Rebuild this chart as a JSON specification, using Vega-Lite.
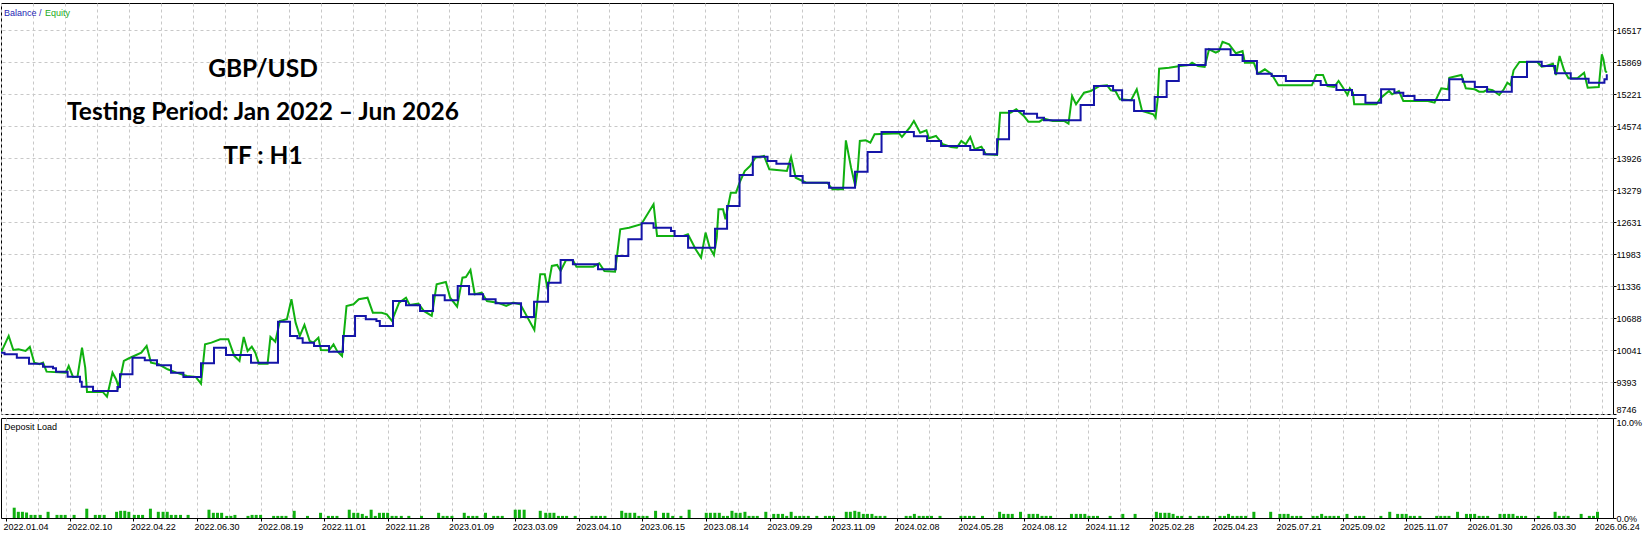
{
"$schema": "https://vega.github.io/schema/vega-lite/v6.json",
"padding": {"left": 0, "top": 2, "right": 0, "bottom": 0},
"background": "white",
"spacing": 2,
"resolve": {"scale": {"x": "independent", "y": "independent"}},
"config": {
  "view": {"stroke": "#000", "strokeWidth": 1},
  "font": "Liberation Sans",
  "axis": {"labelFont": "Liberation Sans", "labelFontSize": 9, "labelColor": "#000", "gridColor": "#c8c8c8", "gridDash": [3, 3], "gridWidth": 1, "tickColor": "#000", "domain": false, "title": null, "minExtent": 0, "tickCount": 1000, "labelOverlap": false}
},
"datasets": {
"balance": [
{"u":0,"v":9988},{"u":0.055,"v":9956},{"u":0.247,"v":9887},{"u":0.437,"v":9766},{"u":0.656,"v":9705},{"u":0.812,"v":9673},{"u":0.859,"v":9604},{"u":1.040,"v":9502},{"u":1.234,"v":9401},{"u":1.260,"v":9300},{"u":1.437,"v":9213},{"u":1.818,"v":9294},{"u":1.858,"v":9551},{"u":2.053,"v":9887},{"u":2.245,"v":9834},{"u":2.436,"v":9733},{"u":2.655,"v":9583},{"u":2.848,"v":9497},{"u":3.123,"v":9774},{"u":3.326,"v":10090},{"u":3.513,"v":9942},{"u":3.904,"v":9786},{"u":4.325,"v":10616},{"u":4.513,"v":10327},{"u":4.628,"v":10280},{"u":4.710,"v":10191},{"u":4.888,"v":10124},{"u":5.122,"v":10009},{"u":5.340,"v":10327},{"u":5.528,"v":10732},{"u":5.696,"v":10665},{"u":5.862,"v":10630},{"u":5.915,"v":10529},{"u":6.121,"v":11035},{"u":6.324,"v":10948},{"u":6.543,"v":10833},{"u":6.746,"v":11151},{"u":6.928,"v":11049},{"u":7.131,"v":11339},{"u":7.308,"v":11171},{"u":7.527,"v":11070},{"u":7.723,"v":10989},{"u":8.120,"v":10711},{"u":8.323,"v":11021},{"u":8.542,"v":11406},{"u":8.738,"v":11866},{"u":8.930,"v":11778},{"u":9.322,"v":11677},{"u":9.599,"v":11947},{"u":9.795,"v":12285},{"u":10.003,"v":12609},{"u":10.189,"v":12520},{"u":10.462,"v":12453},{"u":10.518,"v":12352},{"u":10.728,"v":12115},{"u":11.149,"v":12499},{"u":11.337,"v":12959},{"u":11.532,"v":13587},{"u":11.739,"v":13957},{"u":11.969,"v":13870},{"u":12.107,"v":13816},{"u":12.325,"v":13567},{"u":12.517,"v":13431},{"u":12.930,"v":13330},{"u":13.335,"v":13654},{"u":13.531,"v":14053},{"u":13.749,"v":14458},{"u":14.254,"v":14371},{"u":14.460,"v":14275},{"u":14.678,"v":14174},{"u":15.134,"v":14093},{"u":15.344,"v":14006},{"u":15.553,"v":14310},{"u":15.740,"v":14883},{"u":15.971,"v":14828},{"u":16.177,"v":14747},{"u":16.285,"v":14694},{"u":16.857,"v":15004},{"u":17.066,"v":15389},{"u":17.364,"v":15302},{"u":17.505,"v":15100},{"u":17.692,"v":14883},{"u":18.014,"v":15166},{"u":18.201,"v":15490},{"u":18.390,"v":15814},{"u":18.809,"v":16132},{"u":19.199,"v":16017},{"u":19.386,"v":15895},{"u":19.610,"v":15638},{"u":19.839,"v":15592},{"u":20.062,"v":15490},{"u":20.606,"v":15409},{"u":20.851,"v":15308},{"u":21.095,"v":15207},{"u":21.304,"v":15051},{"u":21.549,"v":15322},{"u":21.757,"v":15253},{"u":21.896,"v":15187},{"u":22.071,"v":15106},{"u":22.614,"v":15525},{"u":22.824,"v":15476},{"u":23.012,"v":15369},{"u":23.204,"v":15274},{"u":23.590,"v":15571},{"u":23.827,"v":15881},{"u":24.057,"v":15794},{"u":24.266,"v":15646},{"u":24.510,"v":15537},{"u":24.789,"v":15456},{"u":25.036,"v":15525},{"u":25.073,"v":15626}
],
"equity": [
{"u":0,"v":9988},{"u":0.120,"v":10327},{"u":0.192,"v":10043},{"u":0.273,"v":10057},{"u":0.384,"v":10023},{"u":0.450,"v":10104},{"u":0.520,"v":9786},{"u":0.603,"v":9753},{"u":0.657,"v":9786},{"u":0.712,"v":9604},{"u":1.013,"v":9583},{"u":1.057,"v":9719},{"u":1.124,"v":9497},{"u":1.194,"v":9497},{"u":1.265,"v":10090},{"u":1.315,"v":9685},{"u":1.343,"v":9193},{"u":1.588,"v":9193},{"u":1.655,"v":9097},{"u":1.741,"v":9583},{"u":1.796,"v":9450},{"u":1.835,"v":9300},{"u":1.918,"v":9820},{"u":1.999,"v":9875},{"u":2.191,"v":9988},{"u":2.274,"v":10124},{"u":2.342,"v":9786},{"u":2.464,"v":9753},{"u":2.601,"v":9652},{"u":2.739,"v":9583},{"u":2.903,"v":9516},{"u":3.040,"v":9497},{"u":3.123,"v":9361},{"u":3.186,"v":10158},{"u":3.286,"v":10191},{"u":3.423,"v":10260},{"u":3.549,"v":10260},{"u":3.642,"v":9922},{"u":3.724,"v":9820},{"u":3.790,"v":10307},{"u":3.851,"v":10023},{"u":3.916,"v":10110},{"u":3.971,"v":9988},{"u":4.026,"v":9766},{"u":4.163,"v":9766},{"u":4.207,"v":10307},{"u":4.283,"v":10211},{"u":4.354,"v":10630},{"u":4.464,"v":10665},{"u":4.535,"v":11070},{"u":4.600,"v":10596},{"u":4.666,"v":10327},{"u":4.738,"v":10549},{"u":4.820,"v":10225},{"u":4.875,"v":10191},{"u":4.956,"v":10292},{"u":4.995,"v":10043},{"u":5.122,"v":10037},{"u":5.192,"v":10158},{"u":5.247,"v":10023},{"u":5.325,"v":9922},{"u":5.356,"v":10393},{"u":5.395,"v":10934},{"u":5.504,"v":10968},{"u":5.587,"v":11070},{"u":5.723,"v":11102},{"u":5.806,"v":10798},{"u":5.943,"v":10798},{"u":6.024,"v":10766},{"u":6.106,"v":10630},{"u":6.134,"v":10732},{"u":6.216,"v":11001},{"u":6.324,"v":11102},{"u":6.380,"v":10954},{"u":6.518,"v":10981},{"u":6.601,"v":10833},{"u":6.726,"v":10732},{"u":6.802,"v":11373},{"u":6.946,"v":11420},{"u":7.013,"v":11102},{"u":7.122,"v":10920},{"u":7.205,"v":11507},{"u":7.259,"v":11521},{"u":7.330,"v":11663},{"u":7.397,"v":11171},{"u":7.506,"v":11203},{"u":7.588,"v":11035},{"u":7.753,"v":11001},{"u":7.889,"v":10934},{"u":7.998,"v":11001},{"u":8.109,"v":10968},{"u":8.328,"v":10448},{"u":8.420,"v":11576},{"u":8.491,"v":11576},{"u":8.535,"v":11272},{"u":8.601,"v":11744},{"u":8.684,"v":11764},{"u":8.738,"v":11643},{"u":8.821,"v":11859},{"u":8.930,"v":11859},{"u":8.985,"v":11730},{"u":9.248,"v":11730},{"u":9.341,"v":11799},{"u":9.422,"v":11643},{"u":9.588,"v":11629},{"u":9.669,"v":12487},{"u":9.806,"v":12520},{"u":9.998,"v":12589},{"u":10.189,"v":12994},{"u":10.244,"v":12352},{"u":10.656,"v":12352},{"u":10.726,"v":12386},{"u":10.846,"v":12082},{"u":10.931,"v":11912},{"u":11.001,"v":12419},{"u":11.067,"v":12115},{"u":11.132,"v":11967},{"u":11.176,"v":12318},{"u":11.203,"v":12893},{"u":11.274,"v":12893},{"u":11.312,"v":12690},{"u":11.395,"v":13228},{"u":11.477,"v":13228},{"u":11.532,"v":13431},{"u":11.613,"v":13668},{"u":11.696,"v":13769},{"u":11.779,"v":13937},{"u":11.914,"v":13972},{"u":11.997,"v":13702},{"u":12.271,"v":13668},{"u":12.336,"v":13951},{"u":12.408,"v":13532},{"u":12.517,"v":13465},{"u":12.572,"v":13431},{"u":12.901,"v":13431},{"u":12.983,"v":13297},{"u":13.148,"v":13297},{"u":13.192,"v":14289},{"u":13.273,"v":13735},{"u":13.339,"v":13364},{"u":13.378,"v":13702},{"u":13.410,"v":14275},{"u":13.503,"v":14289},{"u":13.574,"v":14241},{"u":13.640,"v":14411},{"u":14.024,"v":14431},{"u":14.068,"v":14356},{"u":14.188,"v":14545},{"u":14.254,"v":14680},{"u":14.352,"v":14444},{"u":14.450,"v":14492},{"u":14.489,"v":14330},{"u":14.599,"v":14377},{"u":14.708,"v":14208},{"u":14.834,"v":14154},{"u":14.925,"v":14140},{"u":14.995,"v":14275},{"u":15.064,"v":14208},{"u":15.134,"v":14356},{"u":15.204,"v":14107},{"u":15.309,"v":14160},{"u":15.378,"v":14006},{"u":15.553,"v":13992},{"u":15.601,"v":14849},{"u":15.762,"v":14849},{"u":15.852,"v":14917},{"u":15.971,"v":14782},{"u":16.040,"v":14666},{"u":16.215,"v":14666},{"u":16.285,"v":14727},{"u":16.424,"v":14680},{"u":16.598,"v":14680},{"u":16.668,"v":14626},{"u":16.724,"v":15187},{"u":16.786,"v":15018},{"u":16.911,"v":15253},{"u":17.016,"v":15288},{"u":17.156,"v":15389},{"u":17.271,"v":15403},{"u":17.330,"v":15302},{"u":17.400,"v":15288},{"u":17.470,"v":15120},{"u":17.645,"v":15100},{"u":17.734,"v":15322},{"u":17.817,"v":14883},{"u":17.992,"v":14816},{"u":18.028,"v":14747},{"u":18.062,"v":15140},{"u":18.083,"v":15739},{"u":18.237,"v":15760},{"u":18.410,"v":15794},{"u":18.551,"v":15814},{"u":18.598,"v":15861},{"u":18.690,"v":15794},{"u":18.794,"v":15774},{"u":18.863,"v":16132},{"u":18.968,"v":16064},{"u":19.018,"v":16098},{"u":19.073,"v":16286},{"u":19.176,"v":16233},{"u":19.282,"v":16051},{"u":19.386,"v":16098},{"u":19.422,"v":15861},{"u":19.561,"v":15861},{"u":19.628,"v":15638},{"u":19.734,"v":15727},{"u":19.839,"v":15626},{"u":19.895,"v":15511},{"u":19.944,"v":15403},{"u":20.467,"v":15403},{"u":20.537,"v":15612},{"u":20.642,"v":15612},{"u":20.711,"v":15389},{"u":20.815,"v":15369},{"u":20.885,"v":15490},{"u":20.955,"v":15355},{"u":21.024,"v":15207},{"u":21.060,"v":15342},{"u":21.109,"v":15253},{"u":21.129,"v":15018},{"u":21.477,"v":15018},{"u":21.548,"v":15152},{"u":21.673,"v":15288},{"u":21.721,"v":15221},{"u":21.827,"v":15288},{"u":21.896,"v":15085},{"u":22.280,"v":15085},{"u":22.384,"v":15051},{"u":22.489,"v":15342},{"u":22.594,"v":15322},{"u":22.614,"v":15557},{"u":22.803,"v":15612},{"u":22.872,"v":15342},{"u":23.012,"v":15322},{"u":23.080,"v":15274},{"u":23.151,"v":15274},{"u":23.221,"v":15322},{"u":23.290,"v":15302},{"u":23.394,"v":15207},{"u":23.465,"v":15322},{"u":23.521,"v":15456},{"u":23.570,"v":15409},{"u":23.618,"v":15707},{"u":23.709,"v":15875},{"u":23.988,"v":15875},{"u":24.057,"v":15780},{"u":24.127,"v":15794},{"u":24.232,"v":15841},{"u":24.280,"v":15612},{"u":24.336,"v":15996},{"u":24.406,"v":15707},{"u":24.475,"v":15545},{"u":24.614,"v":15545},{"u":24.719,"v":15658},{"u":24.775,"v":15355},{"u":24.948,"v":15369},{"u":24.996,"v":16031},{"u":25.020,"v":15930},{"u":25.052,"v":15693},{"u":25.073,"v":15658}
],
"load": [
{"u":0.129,"p":1.03},{"u":0.194,"p":0.62},{"u":0.258,"p":0.62},{"u":0.323,"p":0.55},{"u":0.393,"p":0.31},{"u":0.457,"p":0.31},{"u":0.538,"p":0.31},{"u":0.661,"p":0.62},{"u":0.801,"p":0.31},{"u":0.866,"p":0.31},{"u":0.930,"p":0.31},{"u":1.070,"p":0.31},{"u":1.269,"p":0.93},{"u":1.403,"p":0.31},{"u":1.468,"p":0.31},{"u":1.543,"p":0.31},{"u":1.737,"p":0.62},{"u":1.801,"p":0.72},{"u":1.866,"p":0.72},{"u":1.930,"p":0.62},{"u":2.016,"p":0.31},{"u":2.081,"p":0.31},{"u":2.146,"p":0.31},{"u":2.269,"p":0.93},{"u":2.393,"p":0.62},{"u":2.468,"p":0.62},{"u":2.533,"p":0.62},{"u":2.597,"p":0.31},{"u":2.667,"p":0.31},{"u":2.742,"p":0.31},{"u":2.861,"p":0.31},{"u":3.189,"p":0.83},{"u":3.258,"p":0.52},{"u":3.323,"p":0.52},{"u":3.388,"p":0.52},{"u":3.468,"p":0.21},{"u":3.533,"p":0.21},{"u":3.597,"p":0.31},{"u":3.802,"p":0.21},{"u":3.866,"p":0.31},{"u":3.931,"p":0.31},{"u":4.000,"p":0.31},{"u":4.205,"p":0.21},{"u":4.270,"p":0.21},{"u":4.334,"p":0.21},{"u":4.399,"p":0.21},{"u":4.528,"p":0.72},{"u":4.737,"p":0.21},{"u":4.942,"p":0.52},{"u":5.065,"p":0.21},{"u":5.130,"p":0.21},{"u":5.200,"p":0.21},{"u":5.393,"p":0.83},{"u":5.463,"p":0.52},{"u":5.528,"p":0.52},{"u":5.598,"p":0.41},{"u":5.662,"p":0.21},{"u":5.737,"p":0.83},{"u":5.802,"p":0.21},{"u":5.867,"p":0.52},{"u":5.931,"p":0.52},{"u":5.996,"p":0.52},{"u":6.066,"p":0.21},{"u":6.130,"p":0.21},{"u":6.211,"p":0.21},{"u":6.329,"p":0.21},{"u":6.528,"p":0.21},{"u":6.797,"p":0.52},{"u":6.867,"p":0.21},{"u":6.931,"p":0.21},{"u":7.006,"p":0.21},{"u":7.200,"p":0.52},{"u":7.265,"p":0.21},{"u":7.334,"p":0.21},{"u":7.399,"p":0.21},{"u":7.534,"p":0.52},{"u":7.662,"p":0.21},{"u":7.727,"p":0.21},{"u":7.797,"p":0.21},{"u":8.001,"p":0.83},{"u":8.066,"p":0.83},{"u":8.141,"p":0.83},{"u":8.394,"p":0.72},
{"u":8.480,"p":0.52},{"u":8.545,"p":0.52},{"u":8.609,"p":0.52},{"u":8.679,"p":0.21},{"u":8.744,"p":0.21},{"u":8.808,"p":0.21},{"u":8.943,"p":0.21},{"u":9.206,"p":0.21},{"u":9.271,"p":0.21},{"u":9.341,"p":0.21},{"u":9.411,"p":0.21},{"u":9.674,"p":0.72},{"u":9.739,"p":0.52},{"u":9.803,"p":0.52},{"u":9.878,"p":0.52},{"u":9.943,"p":0.21},{"u":10.008,"p":0.21},{"u":10.072,"p":0.21},{"u":10.206,"p":0.72},{"u":10.330,"p":0.52},{"u":10.400,"p":0.52},{"u":10.475,"p":0.21},{"u":10.604,"p":0.21},{"u":10.733,"p":0.83},{"u":11.002,"p":0.52},{"u":11.067,"p":0.52},{"u":11.137,"p":0.52},{"u":11.207,"p":0.52},{"u":11.271,"p":0.21},{"u":11.336,"p":0.21},{"u":11.406,"p":0.72},{"u":11.470,"p":0.52},{"u":11.535,"p":0.52},{"u":11.610,"p":0.62},{"u":11.674,"p":0.21},{"u":11.739,"p":0.21},{"u":11.804,"p":0.21},{"u":11.938,"p":0.62},{"u":12.062,"p":0.41},{"u":12.132,"p":0.41},{"u":12.201,"p":0.41},{"u":12.266,"p":0.21},{"u":12.336,"p":0.62},{"u":12.406,"p":0.21},{"u":12.470,"p":0.21},{"u":12.535,"p":0.21},{"u":12.605,"p":0.21},{"u":12.739,"p":0.21},{"u":12.874,"p":0.21},{"u":12.938,"p":0.21},{"u":13.003,"p":0.21},{"u":13.202,"p":0.62},{"u":13.266,"p":0.62},{"u":13.336,"p":0.72},{"u":13.401,"p":0.62},{"u":13.470,"p":0.41},{"u":13.535,"p":0.41},{"u":13.605,"p":0.41},{"u":13.669,"p":0.21},{"u":13.734,"p":0.21},{"u":13.809,"p":0.21},{"u":14.143,"p":0.21},{"u":14.207,"p":0.21},{"u":14.272,"p":0.41},{"u":14.347,"p":0.21},{"u":14.412,"p":0.21},{"u":14.476,"p":0.21},{"u":14.541,"p":0.21},{"u":14.675,"p":0.21},{"u":15.003,"p":0.21},{"u":15.068,"p":0.21},{"u":15.138,"p":0.21},{"u":15.207,"p":0.21},{"u":15.342,"p":0.21},{"u":15.611,"p":0.62},{"u":15.675,"p":0.41},{"u":15.745,"p":0.41},{"u":15.810,"p":0.41},{"u":15.939,"p":0.62},{"u":16.073,"p":0.41},{"u":16.138,"p":0.41},{"u":16.208,"p":0.41},{"u":16.277,"p":0.21},{"u":16.342,"p":0.21},{"u":16.412,"p":0.21},{"u":16.740,"p":0.41},{"u":16.815,"p":0.41},
{"u":16.884,"p":0.41},{"u":16.950,"p":0.41},{"u":17.015,"p":0.21},{"u":17.084,"p":0.21},{"u":17.149,"p":0.21},{"u":17.348,"p":0.21},{"u":17.547,"p":0.41},{"u":17.740,"p":0.41},{"u":18.074,"p":0.62},{"u":18.138,"p":0.52},{"u":18.208,"p":0.52},{"u":18.273,"p":0.52},{"u":18.337,"p":0.41},{"u":18.407,"p":0.21},{"u":18.472,"p":0.21},{"u":18.606,"p":0.21},{"u":18.746,"p":0.21},{"u":18.810,"p":0.21},{"u":18.880,"p":0.21},{"u":19.074,"p":0.21},{"u":19.144,"p":0.21},{"u":19.208,"p":0.41},{"u":19.273,"p":0.21},{"u":19.343,"p":0.21},{"u":19.407,"p":0.21},{"u":19.477,"p":0.21},{"u":19.606,"p":0.62},{"u":19.870,"p":0.62},{"u":20.015,"p":0.41},{"u":20.080,"p":0.41},{"u":20.144,"p":0.41},{"u":20.209,"p":0.21},{"u":20.279,"p":0.21},{"u":20.343,"p":0.21},{"u":20.537,"p":0.21},{"u":20.601,"p":0.21},{"u":20.671,"p":0.41},{"u":20.736,"p":0.21},{"u":20.800,"p":0.21},{"u":20.865,"p":0.21},{"u":20.935,"p":0.21},{"u":21.069,"p":0.41},{"u":21.204,"p":0.21},{"u":21.268,"p":0.21},{"u":21.333,"p":0.21},{"u":21.601,"p":0.21},{"u":21.741,"p":0.62},{"u":21.865,"p":0.41},{"u":21.935,"p":0.41},{"u":21.999,"p":0.41},{"u":22.064,"p":0.21},{"u":22.128,"p":0.21},{"u":22.214,"p":0.21},{"u":22.478,"p":0.21},{"u":22.542,"p":0.21},{"u":22.607,"p":0.21},{"u":22.671,"p":0.21},{"u":22.806,"p":0.62},{"u":22.946,"p":0.41},{"u":23.010,"p":0.41},{"u":23.075,"p":0.41},{"u":23.145,"p":0.21},{"u":23.209,"p":0.21},{"u":23.279,"p":0.21},{"u":23.473,"p":0.41},{"u":23.543,"p":0.41},{"u":23.612,"p":0.41},{"u":23.677,"p":0.41},{"u":23.747,"p":0.21},{"u":23.811,"p":0.21},{"u":23.876,"p":0.21},{"u":24.075,"p":0.21},{"u":24.339,"p":0.62},{"u":24.404,"p":0.21},{"u":24.474,"p":0.21},{"u":24.543,"p":0.21},{"u":24.748,"p":0.41},{"u":24.877,"p":0.21},{"u":24.942,"p":0.21},{"u":25.005,"p":0.62}
]
},
"vconcat": [
{
  "width": 1612,
  "height": 411,
  "title": {"text": ["GBP/USD", "Testing Period: Jan 2022 – Jun 2026", "TF : H1"], "orient": "top", "anchor": "start", "frame": "group", "align": "center", "baseline": "top", "dx": 262, "dy": 166, "offset": 0, "font": "Lato", "fontSize": 24.5, "fontWeight": "bold", "color": "#000", "lineHeight": 43.5},
  "encoding": {
    "x": {"field": "u", "type": "quantitative", "scale": {"domain": [0, 25.17], "nice": false, "zero": false},
          "axis": {"values": [0,0.5,1,1.5,2,2.5,3,3.5,4,4.5,5,5.5,6,6.5,7,7.5,8,8.5,9,9.5,10,10.5,11,11.5,12,12.5,13,13.5,14,14.5,15,15.5,16,16.5,17,17.5,18,18.5,19,19.5,20,20.5,21,21.5,22,22.5,23,23.5,24,24.5,25], "tickCount": 1000, "labels": false, "ticks": false, "grid": true, "domain": false}},
    "y": {"field": "v", "type": "quantitative", "scale": {"domain": [8746, 17070], "nice": false, "zero": false},
          "axis": {"orient": "right", "values": [8746,9393,10041,10688,11336,11983,12631,13279,13926,14574,15221,15869,16517], "tickCount": 1000, "format": "d", "grid": true, "tickSize": 3, "labelPadding": 0, "labelOverlap": false,
                   "labelBaseline": {"condition": {"test": "datum.value == 8746", "value": "bottom"}, "value": "middle"}}}
  },
  "layer": [
    {
      "data": {"name": "equity"},
      "mark": {"type": "line", "strokeWidth": 2, "interpolate": "linear", "clip": true},
      "encoding": {
        "color": {"datum": "Equity", "type": "nominal",
                  "scale": {"domain": ["Balance", "Equity"], "range": ["#1515a8", "#10b010"]},
                  "legend": {"orient": "none", "legendX": 3, "legendY": 5, "direction": "horizontal", "title": null, "symbolType": "circle", "symbolOpacity": 0, "symbolSize": 0, "symbolStrokeWidth": 0, "labelOffset": -9, "columnPadding": 3, "padding": 0, "labelFont": "Liberation Sans", "labelFontSize": 9,
                             "labelExpr": "datum.label == 'Balance' ? 'Balance /' : datum.label",
                             "encode": {"labels": {"update": {"fill": {"signal": "datum.value == 'Balance' ? '#2424b4' : '#22aa22'"}}}}}}
      }
    },
    {
      "data": {"name": "balance"},
      "mark": {"type": "line", "strokeWidth": 2, "interpolate": "step-after", "clip": true},
      "encoding": {
        "color": {"datum": "Balance", "type": "nominal"}
      }
    }
  ]
},
{
  "width": 1612,
  "height": 100,
  "title": {"text": "Deposit Load", "orient": "top", "anchor": "start", "frame": "group", "align": "left", "baseline": "top", "dx": 3, "dy": 14.5, "offset": 0, "font": "Liberation Sans", "fontSize": 9, "fontWeight": "normal", "color": "#000"},
  "data": {"name": "load"},
  "mark": {"type": "bar", "size": 3, "color": "#10b010", "clip": true},
  "encoding": {
    "x": {"field": "u", "type": "quantitative", "scale": {"domain": [0, 25.17], "nice": false, "zero": false},
          "axis": {"values": [0,0.5,1,1.5,2,2.5,3,3.5,4,4.5,5,5.5,6,6.5,7,7.5,8,8.5,9,9.5,10,10.5,11,11.5,12,12.5,13,13.5,14,14.5,15,15.5,16,16.5,17,17.5,18,18.5,19,19.5,20,20.5,21,21.5,22,22.5,23,23.5,24,24.5,25], "tickCount": 1000,
                   "grid": true, "domain": false, "tickSize": 3,
                   "tickOpacity": {"condition": {"test": "datum.value % 1 == 0", "value": 1}, "value": 0},
                   "labelAlign": "left", "labelBaseline": "top", "labelPadding": 1, "labelOffset": -3, "labelFlush": false, "labelOverlap": false,
                   "labelExpr": "datum.value % 1 == 0 ? ['2022.01.04','2022.02.10','2022.04.22','2022.06.30','2022.08.19','2022.11.01','2022.11.28','2023.01.09','2023.03.09','2023.04.10','2023.06.15','2023.08.14','2023.09.29','2023.11.09','2024.02.08','2024.05.28','2024.08.12','2024.11.12','2025.02.28','2025.04.23','2025.07.21','2025.09.02','2025.11.07','2026.01.30','2026.03.30','2026.06.24'][datum.value] : ''"}},
    "y": {"field": "p", "type": "quantitative", "scale": {"domain": [0, 10], "nice": false, "zero": true},
          "axis": {"orient": "right", "values": [0, 10], "tickCount": 1000, "grid": false, "tickSize": 3, "labelPadding": 0,
                   "labelExpr": "format(datum.value, '.1f') + '%'",
                   "labelBaseline": {"condition": {"test": "datum.value == 10", "value": "top"}, "value": "middle"}}}
  }
}
]
}
